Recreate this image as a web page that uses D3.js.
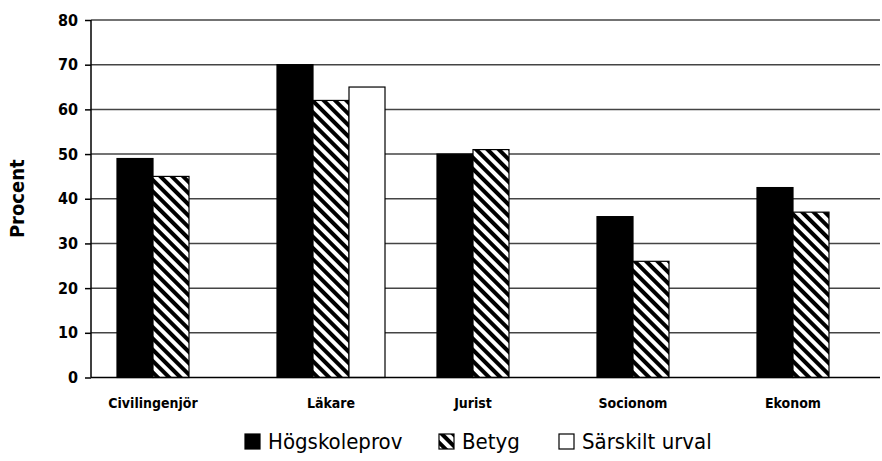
<!DOCTYPE html>
<html><head><meta charset="utf-8">
<script src="https://cdn.jsdelivr.net/npm/d3@7"></script>
<style>
body{margin:0;background:#fff;}
text{font-family:"Liberation Sans Narrow","DejaVu Sans Condensed","Arial Narrow",sans-serif;fill:#000;}
</style></head>
<body><svg id="c" width="882" height="461"></svg>
<script>
const categories = ["Civilingenjör","Läkare","Jurist","Socionom","Ekonom"];
const seriesNames = ["Högskoleprov","Betyg","Särskilt urval"];
const hogskoleprov = [49, 70, 50, 36, 42.5];
const betyg = [45, 62, 51, 26, 37];
const sarskiltUrval = [null, 65, null, null, null];
const yTicks = [0,10,20,30,40,50,60,70,80];
const yLabel = "Procent";

(function(){
const seriesValues = [hogskoleprov, betyg, sarskiltUrval];
const svg = d3.select("#c");
const W = 882, H = 461;
const mLeft = 91, mRight = 891, mTop = 20, mBottom = 377.5;

const defs = svg.append("defs");
const pat = defs.append("pattern").attr("id","hatch").attr("patternUnits","userSpaceOnUse")
  .attr("width",8).attr("height",8).attr("patternTransform","rotate(-45)");
pat.append("rect").attr("width",8).attr("height",8).attr("fill","#fff");
pat.append("rect").attr("x",0).attr("y",0).attr("width",4).attr("height",8).attr("fill","#000");
const fills = ["#000","url(#hatch)","#fff"];

const x = d3.scaleBand().domain(categories).range([mLeft,mRight]).paddingInner(0.325).paddingOuter(0.1625);
const xs = d3.scaleBand().domain(d3.range(3)).range([0,x.bandwidth()]);
const y = d3.scaleLinear().domain([0,80]).range([mBottom,mTop]);

svg.append("g").selectAll("line").data(yTicks.filter(t=>t>0)).join("line")
  .attr("x1",mLeft).attr("x2",W-2).attr("y1",d=>y(d)).attr("y2",d=>y(d))
  .attr("stroke","#444").attr("stroke-width",1.5);

const groups = svg.append("g").selectAll("g").data(categories).join("g")
  .attr("transform",d=>`translate(${x(d)},0)`);
groups.selectAll("rect").data((c,i)=>seriesValues.map((s,j)=>({j,v:s[i]})).filter(d=>d.v!=null)).join("rect")
  .attr("x",d=>xs(d.j)).attr("width",xs.bandwidth())
  .attr("y",d=>y(d.v)).attr("height",d=>mBottom-y(d.v))
  .attr("fill",d=>fills[d.j]).attr("stroke","#000").attr("stroke-width",1.2);

const yAxis = d3.axisLeft(y).tickValues(yTicks).tickSize(6).tickPadding(7);
const ga = svg.append("g").attr("transform",`translate(${mLeft},0)`).call(yAxis);
ga.select(".domain").remove();
ga.selectAll(".tick line").attr("stroke","#000").attr("stroke-width",1.5);
ga.selectAll(".tick text").attr("font-size",16).attr("font-weight","bold")
  .style("font-family",'"Liberation Sans Narrow","DejaVu Sans Condensed",sans-serif');
svg.append("line").attr("x1",mLeft).attr("x2",mLeft).attr("y1",y(80)).attr("y2",mBottom)
  .attr("stroke","#000").attr("stroke-width",1.5);
svg.append("line").attr("x1",mLeft).attr("x2",W-2).attr("y1",mBottom).attr("y2",mBottom)
  .attr("stroke","#000").attr("stroke-width",1.5);

svg.append("g").selectAll("text").data(categories).join("text")
  .attr("x",(c,i)=>{const n=seriesValues.filter(s=>s[i]!=null).length;return x(c)+xs.step()*n/2;})
  .attr("y",408).attr("text-anchor","middle").attr("font-size",14).attr("font-weight","bold")
  .text(d=>d);

svg.append("text").attr("transform",`translate(24,${(mTop+mBottom)/2}) rotate(-90)`)
  .attr("text-anchor","middle").attr("font-size",20).attr("font-weight","bold").text(yLabel);

const legX = [245, 439, 559];
const lg = svg.append("g").selectAll("g").data(seriesNames).join("g")
  .attr("transform",(d,i)=>`translate(${legX[i]},434)`);
lg.append("rect").attr("width",15).attr("height",15).attr("fill",(d,i)=>fills[i])
  .attr("stroke","#000").attr("stroke-width",1.2);
lg.append("text").attr("x",23).attr("y",15).attr("font-size",22).text(d=>d);
})();
</script></body></html>
